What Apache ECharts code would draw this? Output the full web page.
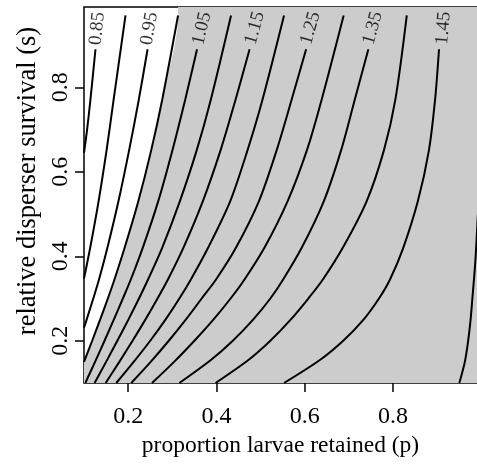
<!DOCTYPE html>
<html>
<head>
<meta charset="utf-8">
<script src="https://cdn.jsdelivr.net/npm/echarts@6/dist/echarts.min.js"></script>
<style>
html, body { margin: 0; padding: 0; background: #fff; }
#graph { width: 477px; height: 474px; }
</style>
</head>
<body>
<div id="graph"></div>
<script>
// contour levels and the lines, [p, s]
var levels = [0.85, 0.9, 0.95, 1.0, 1.05, 1.1, 1.15, 1.2, 1.25, 1.3, 1.35, 1.4, 1.45, 1.5];
var c085 = [[0.126, 0.89], [0.1145, 0.77], [0.107, 0.70], [0.100, 0.645]];
var c090 = [[0.194, 0.97], [0.167, 0.77], [0.151, 0.65], [0.133, 0.53], [0.114, 0.42], [0.100, 0.347]];
var c095 = [[0.244, 0.89], [0.224, 0.77], [0.202, 0.65], [0.178, 0.53], [0.153, 0.42], [0.134, 0.345], [0.121, 0.30], [0.106, 0.25], [0.100, 0.231]];
var c100 = [[0.313, 0.97], [0.277, 0.77], [0.252, 0.65], [0.223, 0.53], [0.192, 0.42], [0.169, 0.345], [0.154, 0.30], [0.1365, 0.25], [0.1185, 0.20], [0.100, 0.150]];
var c105 = [[0.356, 0.89], [0.329, 0.77], [0.300, 0.65], [0.268, 0.53], [0.233, 0.42], [0.206, 0.345], [0.188, 0.30], [0.1675, 0.25], [0.1465, 0.20], [0.125, 0.15], [0.103, 0.10]];
var c110 = [[0.433, 0.97], [0.387, 0.77], [0.355, 0.65], [0.317, 0.53], [0.277, 0.42], [0.245, 0.345], [0.2245, 0.30], [0.2005, 0.25], [0.1755, 0.20], [0.150, 0.15], [0.124, 0.10]];
var c115 = [[0.475, 0.89], [0.443, 0.77], [0.409, 0.65], [0.369, 0.53], [0.325, 0.42], [0.290, 0.345], [0.2665, 0.30], [0.239, 0.25], [0.210, 0.20], [0.180, 0.15], [0.149, 0.10]];
var c120 = [[0.553, 0.97], [0.504, 0.77], [0.470, 0.65], [0.431, 0.53], [0.381, 0.42], [0.342, 0.345], [0.316, 0.30], [0.2845, 0.25], [0.250, 0.20], [0.2125, 0.15], [0.173, 0.10]];
var c125 = [[0.603, 0.89], [0.570, 0.77], [0.536, 0.65], [0.496, 0.53], [0.444, 0.42], [0.399, 0.345], [0.3665, 0.30], [0.3305, 0.25], [0.292, 0.20], [0.251, 0.15], [0.207, 0.10]];
var c130 = [[0.688, 0.97], [0.638, 0.77], [0.6045, 0.65], [0.561, 0.53], [0.5085, 0.42], [0.4635, 0.345], [0.432, 0.30], [0.393, 0.25], [0.350, 0.20], [0.304, 0.15], [0.254, 0.10]];
var c135 = [[0.744, 0.89], [0.713, 0.77], [0.682, 0.65], [0.643, 0.53], [0.593, 0.42], [0.551, 0.345], [0.522, 0.30], [0.483, 0.25], [0.437, 0.20], [0.388, 0.155], [0.316, 0.10]];
var c140 = [[0.831, 0.97], [0.805, 0.77], [0.779, 0.65], [0.740, 0.53], [0.686, 0.42], [0.641, 0.345], [0.608, 0.30], [0.568, 0.25], [0.522, 0.20], [0.473, 0.155], [0.398, 0.10]];
var c145 = [[0.904, 0.89], [0.895, 0.77], [0.881, 0.65], [0.856, 0.53], [0.823, 0.42], [0.793, 0.345], [0.768, 0.30], [0.733, 0.25], [0.687, 0.20], [0.635, 0.155], [0.553, 0.10]];
var c150 = [[0.992, 0.50], [0.987, 0.40], [0.9835, 0.35], [0.9795, 0.30], [0.9755, 0.25], [0.970, 0.20], [0.9625, 0.15], [0.950, 0.10]];
var contours = [c085, c090, c095, c100, c105, c110, c115, c120, c125, c130, c135, c140, c145, c150];

// labels sit at the top end of every other line
var labelText = ['0.85', '0.95', '1.05', '1.15', '1.25', '1.35', '1.45'];
var labelLine = [0, 2, 4, 6, 8, 10, 12];
var labelP = [0.130, 0.248, 0.367, 0.487, 0.613, 0.754, 0.914];
var labelS = [0.939, 0.939, 0.939, 0.940, 0.940, 0.940, 0.940];

var xTicks = [0.2, 0.4, 0.6, 0.8];
var yTicks = [0.2, 0.4, 0.6, 0.8];
var pRange = [0.1, 0.99];
var sRange = [0.1, 0.99];

var font = 'Liberation Serif';
var chart = echarts.init(document.getElementById('graph'));

// grey area: everything below the 1.0 line (value above 1)
var greyEdge = c100.slice().reverse().concat([[c100[0][0], sRange[1]], [pRange[1], sRange[1]]]);

var series = [{
  type: 'line',
  data: greyEdge,
  smooth: 0.3,
  symbol: 'none',
  lineStyle: { width: 0 },
  areaStyle: { color: '#cccccc', opacity: 1, origin: 'start' },
  silent: true,
  z: 1
}];

contours.forEach(function(line, i) {
  series.push({
    type: 'line',
    name: String(levels[i]),
    data: line,
    smooth: 0.3,
    symbol: 'none',
    lineStyle: { color: '#000', width: 2 },
    silent: true,
    z: 3
  });
});

series.push({
  type: 'scatter',
  id: 'labels',
  symbolSize: 0,
  data: labelText.map(function(t, i) { return { value: [labelP[i], labelS[i]], name: t }; }),
  label: {
    show: true,
    position: 'inside',
    formatter: '{b}',
    fontFamily: font,
    fontSize: 19,
    color: '#000'
  },
  silent: true,
  z: 4
});

var option = {
  animation: false,
  grid: {
    left: 84, top: 7, width: 395, height: 376,
    show: true, borderColor: '#000', borderWidth: 1.5, backgroundColor: 'transparent'
  },
  xAxis: {
    type: 'value', min: pRange[0], max: pRange[1],
    name: 'proportion larvae retained (p)', nameLocation: 'middle', nameGap: 51,
    nameTextStyle: { fontFamily: font, fontSize: 23.5, color: '#000' },
    axisLine: { show: false },
    splitLine: { show: false },
    axisTick: { show: true, length: 9, customValues: xTicks, lineStyle: { color: '#000', width: 1.5 } },
    axisLabel: { customValues: xTicks, fontFamily: font, fontSize: 24, color: '#000', margin: 22,
      formatter: function(v) { return String(v); } }
  },
  yAxis: {
    type: 'value', min: sRange[0], max: sRange[1],
    name: 'relative disperser survival (s)', nameLocation: 'middle', nameGap: 40,
    nameTextStyle: { fontFamily: font, fontSize: 26.5, color: '#000', padding: [0, 0, 0, 28] },
    axisLine: { show: false },
    splitLine: { show: false },
    axisTick: { show: true, length: 9, customValues: yTicks, lineStyle: { color: '#000', width: 1.5 } },
    axisLabel: { customValues: yTicks, rotate: 90, fontFamily: font, fontSize: 24, color: '#000', margin: 11,
      formatter: function(v) { return String(v); } }
  },
  series: series
};
chart.setOption(option);

// turn each label along its line
var rotated = labelText.map(function(t, i) {
  var line = contours[labelLine[i]];
  var a = chart.convertToPixel({ gridIndex: 0 }, line[0]);
  var b = chart.convertToPixel({ gridIndex: 0 }, line[1]);
  var ang = Math.atan2(b[1] - a[1], a[0] - b[0]) * 180 / Math.PI;
  return { value: [labelP[i], labelS[i]], name: t, label: { rotate: ang } };
});
chart.setOption({ series: [{ id: 'labels', data: rotated }] });
</script>
</body>
</html>
